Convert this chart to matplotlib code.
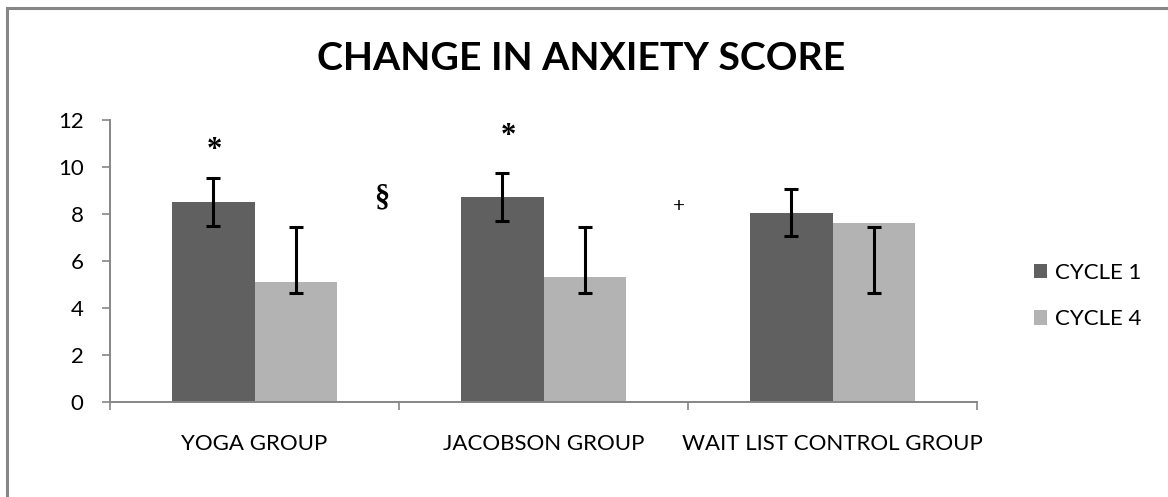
import numpy as np
import matplotlib.pyplot as plt
from matplotlib.patches import Rectangle

groups = ["YOGA GROUP", "JACOBSON GROUP", "WAIT LIST CONTROL GROUP"]
cycle1 = [8.50, 8.71, 8.03]
cycle4 = [5.12, 5.31, 7.60]
# error bar ends (low, high) as printed on the figure
cycle1_lo = [7.50, 7.72, 7.06]
cycle1_hi = [9.52, 9.73, 9.05]
cycle4_lo = [4.65, 4.65, 4.65]
cycle4_hi = [7.43, 7.43, 7.43]

# significance marks: (x in category units, y value, symbol)
marks = [(-0.14, 10.7, "*"), (0.88, 11.3, "*"), (0.44, 8.7, "§"), (1.47, 8.3, "+")]

dark = "#606060"
light = "#b3b3b3"
axis_col = "#868686"

plt.rcParams["font.family"] = ["Lato", "DejaVu Sans"]

fig = plt.figure(figsize=(11.68, 4.97), dpi=100)
ax = fig.add_axes([110 / 1168, 1 - 402 / 497, (977 - 110) / 1168, (402 - 120) / 497])

x = np.arange(len(groups))
w = 0.287
ax.bar(x - w / 2, cycle1, w, color=dark, label="CYCLE 1", zorder=2)
ax.bar(x + w / 2, cycle4, w, color=light, label="CYCLE 4", zorder=2)

for xs, lo, hi in [(x - w / 2, cycle1_lo, cycle1_hi), (x + w / 2, cycle4_lo, cycle4_hi)]:
    lo = np.array(lo)
    hi = np.array(hi)
    ax.errorbar(xs, (lo + hi) / 2, yerr=(hi - lo) / 2, fmt="none", ecolor="black",
                elinewidth=2.2, capsize=4.7, capthick=2.2, zorder=3)

for mx, my, s in marks:
    size = 22 if s != "+" else 15
    ax.text(mx, my, s, ha="center", va="center", fontsize=size, fontweight="bold",
            family="Liberation Serif", zorder=4)

ax.set_xlim(-0.5, 2.5)
ax.set_ylim(0, 12)
ax.set_yticks(range(0, 13, 2))
ax.set_xticks([-0.5, 0.5, 1.5, 2.5])
ax.set_xticklabels([])
ax.set_xticks(x, minor=True)
ax.set_xticklabels(groups, minor=True, fontsize=16)
ax.tick_params(axis="x", which="minor", length=0, pad=23)
ax.tick_params(axis="x", which="major", length=6, width=1.2, color=axis_col, direction="out")
ax.tick_params(axis="y", length=6, width=1.2, color=axis_col, labelsize=16, pad=13)

for side in ["top", "right"]:
    ax.spines[side].set_visible(False)
for side in ["left", "bottom"]:
    ax.spines[side].set_color(axis_col)
    ax.spines[side].set_linewidth(1.4)

fig.text(581 / 1168, 1 - 58 / 497, "CHANGE IN ANXIETY SCORE", ha="center", va="center",
         fontsize=28.3, fontweight="bold")

ax.legend(loc="center left", bbox_to_anchor=(1034 / 1168, 1 - 296 / 497),
          bbox_transform=fig.transFigure, frameon=False, fontsize=16,
          handlelength=0.6, handleheight=0.6, handletextpad=0.35, labelspacing=1.2,
          borderaxespad=0, borderpad=0)

# outer chart frame
fig.add_artist(Rectangle((7 / 1168, -0.02), 1.05, 1 - 7.5 / 497 + 0.02, transform=fig.transFigure,
                         fill=False, edgecolor=axis_col, linewidth=2.2))

fig.savefig("out.png", dpi=100)
